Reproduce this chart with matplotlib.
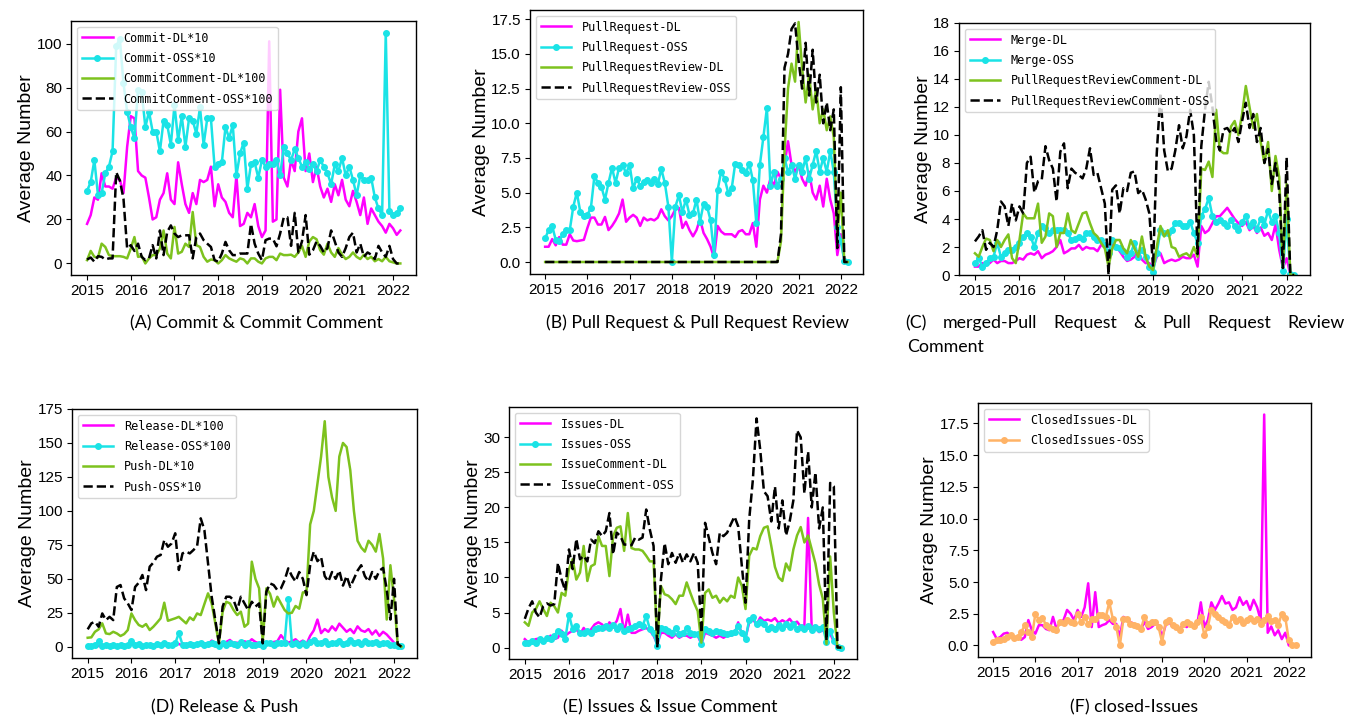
import numpy as np
import matplotlib
matplotlib.use("Agg")
import matplotlib.pyplot as plt

# ---------------- data (monthly, Jan 2015 .. Mar 2022) ----------------
years = [2015, 2016, 2017, 2018, 2019, 2020, 2021, 2022]

# (A) Commit & Commit Comment
commit_dl_x10 = [18, 22, 30, 29, 41, 35, 35, 34, 39, 38, 32, 53,
                 67, 66, 42, 40, 39, 30, 20, 21, 29, 32, 41, 29,
                 27, 46, 36, 27, 23, 32, 27, 38, 37, 38, 44, 26,
                 36, 30, 28, 23, 21, 40, 17, 18, 23, 21, 27, 17,
                 12, 15, 101, 19, 20, 79, 39, 35, 47, 42, 60, 66,
                 42, 50, 37, 44, 35, 30, 34, 28, 36, 31, 38, 29,
                 26, 33, 28, 22, 30, 18, 25, 22, 19, 17, 14, 18,
                 16, 13, 15]
commit_oss_x10 = [33, 37, 47, 31, 32, 41, 44, 51, 99, 102, 82, 69,
                  62, 57, 79, 78, 62, 69, 60, 60, 51, 65, 63, 54,
                  72, 56, 67, 53, 66, 65, 59, 71, 54, 66, 66, 44,
                  45, 46, 62, 57, 63, 40, 50, 55, 34, 45, 46, 39,
                  47, 44, 45, 45, 47, 40, 53, 50, 47, 52, 48, 44,
                  46, 43, 45, 42, 47, 44, 41, 36, 45, 42, 48, 40,
                  44, 38, 31, 40, 38, 38, 39, 30, 25, 22, 105, 24,
                  22, 23, 25]
commitcomment_dl_x100 = [1.5, 5.7, 3, 2.7, 9, 7.5, 3.8, 3.3, 3.3, 3.3, 3, 2.3,
                         6.8, 12, 3, 3.3, 0, 2.3, 3.8, 3.8, 6.8, 15, 4.5, 2.3,
                         16.6, 4.5, 5.3, 9, 7.5, 23.4, 8.3, 7.5, 3, 0.8, 1.8, 1.5,
                         0, 1.5, 3.8, 2.3, 1.5, 0.8, 2.3, 1.8, 0, 2.3, 2.3, 0.8,
                         0, 2.3, 3, 3, 1.5, 4.5, 3.8, 3.8, 4, 3, 5, 8,
                         3, 10, 12, 11, 6, 4, 9, 5, 3, 7, 4, 2,
                         3, 5, 3, 2, 4, 2, 3, 1, 2, 1, 3, 1,
                         0.5, 0, 0]
commitcomment_oss_x100 = [1.8, 2.7, 0.8, 3.3, 3, 1.8, 2.3, 2.3, 41.5, 37.7, 29.4, 6.8,
                          8.3, 5.7, 9, 3, 1.5, 2.3, 8.3, 2.3, 15, 3.8, 14.3, 17.3,
                          13.6, 12, 12.8, 12.8, 12.8, 2.3, 12, 13.6, 10.6, 9, 7.5, 1.5,
                          0.8, 4.5, 9.8, 6, 3.8, 3.8, 4.5, 4.5, 4.5, 18, 9, 4.5,
                          1.5, 10.6, 11.3, 11.3, 7.8, 13.6, 21, 21, 8, 23, 5, 10,
                          22, 4, 6, 10, 8, 5, 7, 15, 10, 5, 3, 7,
                          12, 14, 5, 9, 3, 5, 4, 2, 8, 5, 3, 8,
                          2, 0, 0]

# (B) Pull Request & Pull Request Review
pr_dl = [1.1, 1.1, 1.65, 1.2, 1.8, 1.25, 1.25, 2.0, 1.55, 1.5, 1.55, 1.6,
         2.45, 3.2, 3.2, 2.7, 2.7, 3.25, 2.3, 2.6, 3.0, 3.5, 4.5, 2.9,
         3.2, 3.4, 3.2, 2.6, 3.2, 3.0, 3.1, 3.0, 3.2, 3.8, 3.3, 3.0,
         3.3, 3.8, 3.9, 2.45, 2.9, 2.3, 1.85, 2.3, 3.1, 2.1, 1.65, 1.1,
         0.3, 2.6, 2.2, 2.0, 2.0, 2.0, 1.8, 2.2, 2.3, 2.0, 2.0, 2.8,
         1.1, 4.5, 5.5, 5.0, 6.0, 5.5, 6.5, 6.0, 7.0, 8.7, 7.0, 6.5,
         7.0, 6.0, 5.5, 6.5, 5.0, 4.5, 5.5, 4.0, 6.0, 4.5, 3.5, 0.5,
         2.0, 0.0, 0.0]
pr_oss = [1.7, 2.3, 2.6, 1.6, 1.5, 2.0, 2.3, 2.3, 4.0, 5.0, 3.6, 3.3,
          3.4, 3.9, 6.2, 5.7, 5.4, 4.5, 5.7, 6.8, 5.7, 6.8, 7.0, 6.4,
          7.0, 5.3, 6.0, 5.5, 5.8, 5.9, 5.7, 6.0, 5.6, 6.7, 5.7, 4.0,
          0.0, 4.0, 4.8, 3.6, 4.5, 3.4, 3.5, 4.5, 2.9, 4.2, 4.0, 3.0,
          0.5, 5.2, 6.5, 6.0, 5.0, 5.3, 7.1, 7.0, 6.6, 6.4, 7.1, 5.9,
          2.8, 7.0, 9.0, 11.1, 5.5, 6.5, 5.5, 6.0, 7.5, 6.5, 7.0, 6.0,
          7.0, 6.5, 7.5, 6.0, 7.0, 8.0, 6.5, 7.5, 6.5, 8.0, 6.5, 2.5,
          1.5, 0.1, 0.0]
prreview_dl = [0] * 60 + [0, 0, 0, 0, 0, 0, 0, 1.5, 8.0, 12.5, 14.3, 13.0,
                          17.3, 14.0, 11.5, 13.5, 11.0, 12.5, 10.0, 11.0, 9.5, 10.5, 9.0, 2.0,
                          5.0, 0.0, 0.0]
prreview_oss = [0] * 60 + [0, 0, 0, 0, 0, 0, 0, 2.0, 14.0, 15.0, 16.8, 17.2,
                           14.5, 12.5, 15.8, 12.0, 15.3, 11.5, 13.5, 10.0, 11.5, 9.5, 11.0, 1.0,
                           12.6, 0.0, 0.0]

# (C) merged-Pull Request & Pull Request Review Comment
merge_dl = [0.6, 0.6, 0.85, 0.75, 0.85, 1.1, 0.85, 1.0, 1.0, 0.85, 0.85, 1.0,
            1.2, 1.1, 1.45, 1.55, 1.45, 1.7, 1.2, 1.45, 1.55, 1.7, 2.0, 2.5,
            1.55, 1.7, 1.9, 1.9, 2.15, 1.8, 2.0, 1.9, 1.9, 1.7, 2.15, 2.0,
            2.0, 2.15, 2.0, 1.7, 1.3, 1.0, 1.1, 1.3, 1.7, 1.1, 0.85, 0.85,
            0.5, 1.3, 1.55, 0.85, 1.0, 1.1, 1.0, 1.1, 1.3, 1.2, 1.2, 1.45,
            0.6, 3.5, 3.0, 3.2, 3.7, 4.2, 4.2, 4.5, 4.8, 4.4, 4.0, 3.7,
            3.5, 3.8, 3.2, 3.5, 3.0, 3.4, 2.8, 3.0, 2.5, 3.6, 1.8, 0.5,
            1.2, 0.0, 0.0]
merge_oss = [0.85, 1.2, 0.6, 0.85, 1.2, 1.3, 2.3, 1.3, 1.55, 1.8, 1.8, 2.0,
             2.3, 2.7, 3.0, 2.75, 2.0, 3.0, 3.5, 3.35, 3.0, 3.2, 3.2, 3.2,
             3.2, 3.0, 2.5, 2.6, 2.75, 2.6, 3.0, 3.0, 2.75, 2.5, 2.5, 2.15,
             1.55, 2.5, 2.0, 1.9, 1.7, 1.3, 1.55, 2.3, 1.3, 1.8, 1.3, 0.6,
             0.25, 1.55, 3.2, 3.0, 3.0, 3.2, 3.7, 3.7, 3.5, 3.5, 3.8, 3.0,
             2.3, 4.2, 4.7, 5.5, 4.2, 3.8, 3.9, 3.7, 3.5, 3.9, 3.5, 3.2,
             3.8, 4.2, 3.5, 3.8, 3.3, 4.0, 3.6, 4.6, 3.8, 4.2, 3.0, 0.3,
             4.0, 0.1, 0.0]
prrc_dl = [1.55, 1.3, 2.0, 2.6, 2.5, 1.7, 2.5, 2.0, 2.5, 2.9, 1.2, 0.85,
           2.5, 4.4, 4.05, 4.05, 4.05, 5.1, 2.3, 2.75, 4.4, 4.2, 2.0, 3.0,
           3.0, 4.4, 3.2, 3.0, 3.7, 4.4, 4.5, 3.7, 3.0, 2.75, 2.3, 1.9,
           0.6, 1.9, 2.5, 2.5, 1.9, 1.55, 2.5, 1.9, 1.3, 2.75, 1.3, 0.6,
           0.35, 2.0, 3.5, 2.75, 3.2, 2.0, 1.9, 1.3, 1.45, 1.55, 1.3, 2.0,
           1.3, 7.6, 7.5, 8.1, 7.0, 11.8, 8.9, 8.7, 8.7, 10.6, 11.0, 10.0,
           11.5, 13.5, 12.0, 10.5, 11.5, 9.5, 8.0, 9.5, 6.0, 8.5, 7.0, 0.5,
           6.5, 0.0, 0.0]
prrc_oss = [2.4, 2.75, 3.2, 1.8, 2.3, 2.0, 3.2, 5.25, 4.9, 3.5, 5.1, 3.9,
            4.9, 4.4, 8.0, 8.45, 5.9, 6.7, 6.8, 9.2, 8.2, 7.6, 5.25, 8.8,
            9.4, 6.2, 7.6, 7.3, 7.15, 6.9, 7.6, 9.05, 7.15, 7.3, 6.2, 5.1,
            0.0, 6.1, 6.4, 4.4, 6.2, 6.0, 7.3, 7.4, 5.85, 6.1, 5.4, 4.4,
            0.6, 8.7, 13.0, 8.9, 7.4, 7.6, 8.9, 10.7, 9.05, 9.9, 11.8, 10.0,
            1.5, 9.2, 11.8, 13.8, 12.0, 9.6, 8.9, 10.4, 10.5, 10.1, 10.5, 9.5,
            11.0, 12.3, 10.5, 11.5, 9.5, 10.5, 8.0, 9.0, 6.5, 8.0, 6.0, 0.5,
            8.4, 0.0, 0.0]

# (D) Release & Push
release_dl_x100 = [0.3, 0.5, 1.0, 0.5, 0.8, 1.0, 0.5, 1.2, 0.8, 0.5, 1.0, 1.5,
                   2.0, 1.2, 0.8, 1.0, 0.5, 1.5, 1.0, 0.8, 1.2, 1.5, 1.0, 0.5,
                   1.5, 2.0, 1.0, 1.5, 1.2, 1.0, 2.0, 1.5, 2.5, 2.0, 4.5, 3.0,
                   1.0, 2.5, 3.5, 5.0, 2.5, 3.0, 2.0, 4.0, 3.0, 5.5, 3.5, 2.5,
                   1.0, 3.0, 2.0, 3.5, 4.0, 8.5, 5.0, 3.0, 4.0, 5.5, 3.0, 4.5,
                   2.0, 8.0, 12.0, 20.0, 10.0, 13.0, 11.0, 15.0, 12.0, 17.0, 14.0, 11.0,
                   13.0, 10.0, 15.0, 12.0, 11.0, 13.0, 9.0, 12.0, 8.0, 11.0, 9.0, 6.0,
                   3.0, 0.5, 0.5]
release_oss_x100 = [0.5, 0.8, 1.0, 4.0, 0.6, 1.2, 0.5, 1.5, 0.8, 1.2, 0.6, 1.5,
                    4.0, 1.0, 2.0, 0.8, 1.0, 1.5, 0.6, 2.0, 1.2, 3.0, 1.0, 1.5,
                    2.5, 10.0, 1.5, 1.0, 2.0, 1.2, 1.8, 2.5, 1.0, 2.0, 3.0, 2.0,
                    0.5, 2.5, 1.5, 3.0, 2.0, 1.0, 3.5, 1.5, 2.5, 1.0, 1.5, 2.0,
                    0.5, 3.0, 2.5, 1.5, 2.5, 3.0, 3.0, 35.0, 2.0, 3.0, 1.5, 2.5,
                    1.0, 3.5, 5.0, 3.0, 2.5, 4.0, 2.0, 3.0, 2.5, 4.5, 2.0, 3.0,
                    5.0, 2.5, 3.5, 2.0, 4.0, 3.0, 2.5, 3.5, 2.0, 2.5, 3.0, 1.5,
                    1.0, 0.5, 0.5]
push_dl_x10 = [6.6, 6.9, 11, 12.8, 17.2, 9.8, 9.3, 11, 9.8, 7.9, 9.3, 12.3,
               24.5, 19.6, 16, 14.7, 16.7, 12.3, 14.7, 17.7, 20.9, 32.4, 19.1, 20,
               20.9, 22, 19.6, 17.2, 21.6, 19.6, 24.5, 23.3, 31.4, 39.3, 31.9, 17.2,
               2.5, 25.8, 33.1, 31.9, 27, 23.3, 25.8, 14.7, 17, 62.6, 50, 43,
               4, 43, 39, 29.5, 36.8, 31.9, 27, 24.5, 25, 30, 28, 40,
               40, 90, 100, 120, 140, 166, 125, 110, 100, 140, 150, 147,
               130, 100, 78, 73, 70, 78, 75, 70, 83, 65, 20, 60,
               35, 2, 0]
push_oss_x10 = [12.8, 17.2, 18.4, 14.7, 24.5, 19.6, 22, 19.6, 44, 45.4, 35.6, 31.9,
                27, 44, 47.1, 52.8, 41.7, 58.9, 61.9, 66.3, 67.5, 78.5, 73.6, 76,
                83.5, 56.5, 68.7, 70, 68.7, 71.2, 74, 94.5, 85.9, 61.4, 36.8, 19.6,
                2.5, 29.5, 36.8, 36.8, 34.4, 27, 36.8, 31.9, 27, 33.1, 29.5, 31.9,
                2.5, 40.5, 46.6, 45.4, 41.7, 43, 49, 57.7, 52, 48, 55, 50,
                38, 60, 70, 63, 66, 52, 48, 55, 50, 56, 45, 52,
                44, 50, 56, 60, 52, 48, 55, 50, 56, 58, 42, 20,
                50, 2, 0]

# (E) Issues & Issue Comment
issues_dl = [1.2, 0.7, 1.0, 1.2, 1.3, 0.7, 1.2, 1.7, 1.2, 1.4, 2.4, 1.7,
             2.1, 2.4, 2.6, 1.9, 2.8, 2.1, 2.6, 3.3, 3.6, 3.3, 2.6, 3.6,
             3.1, 3.8, 5.5, 2.1, 4.7, 2.1, 2.1, 2.4, 2.6, 2.8, 2.4, 1.7,
             0.5, 2.1, 2.1, 1.7, 1.4, 1.9, 1.4, 1.7, 1.7, 1.4, 1.7, 1.7,
             0.5, 2.1, 1.9, 1.7, 1.4, 1.7, 1.4, 1.7, 1.7, 1.9, 3.6, 1.9,
             1.4, 3.6, 4.0, 3.3, 4.3, 3.8, 4.0, 3.8, 4.2, 3.5, 3.9, 3.6,
             4.1, 3.4, 3.7, 3.0, 3.2, 18.5, 2.5, 2.8, 2.2, 2.5, 1.8, 2.0,
             0.8, 0.0, 0.0]
issues_oss = [0.7, 0.7, 1.0, 0.7, 1.2, 1.0, 1.4, 1.2, 1.7, 2.4, 1.9, 1.2,
              4.7, 2.6, 3.1, 2.1, 2.1, 2.4, 2.1, 2.6, 2.8, 2.8, 3.1, 2.8,
              3.2, 2.7, 3.1, 2.4, 2.6, 2.8, 3.1, 3.3, 3.1, 4.5, 2.6, 2.1,
              0.2, 2.8, 2.6, 2.4, 2.1, 2.8, 1.9, 2.1, 2.8, 2.1, 1.9, 1.9,
              0.5, 2.6, 2.4, 2.1, 2.4, 2.2, 2.1, 1.9, 2.1, 2.2, 3.1, 2.1,
              1.2, 4.0, 4.3, 3.3, 3.6, 3.3, 2.7, 3.0, 2.6, 3.2, 2.8, 3.4,
              2.9, 3.3, 2.6, 3.0, 2.7, 3.1, 2.5, 2.9, 2.6, 3.0, 0.8, 2.4,
              1.0, 0.1, 0.0]
issuecomment_dl = [3.6, 3.1, 5.0, 5.5, 6.6, 5.5, 4.5, 6.4, 5.9, 5.0, 7.8, 7.4,
                   11.2, 12.6, 9.7, 10.7, 14.5, 9.5, 11.6, 11.9, 15.9, 14.5, 14.5, 10.2,
                   15.9, 17.1, 17.3, 13.8, 19.2, 14.2, 14.0, 14.0, 13.8, 13.1, 12.3, 12.3,
                   0.7, 8.8, 7.6, 7.4, 6.9, 6.2, 7.4, 7.4, 9.3, 7.8, 6.4, 5.2,
                   0.7, 7.8, 8.3, 7.1, 7.4, 6.4, 7.1, 6.6, 7.4, 7.1, 10.0, 8.8,
                   5.5, 13.1, 14.2, 14.0, 15.9, 17.1, 17.3, 14.5, 11.5, 10.0, 9.5, 12.0,
                   11.0, 14.0, 16.0, 17.2, 15.0, 16.0, 14.0, 12.0, 9.0, 7.0, 0.5, 13.0,
                   5.0, 0.0, 0.0]
issuecomment_oss = [4.1, 5.6, 6.6, 5.0, 4.3, 5.9, 6.3, 6.0, 6.2, 12.1, 9.7, 8.1,
                    14.0, 11.2, 15.5, 12.6, 13.1, 12.3, 15.4, 14.9, 16.6, 15.9, 16.6, 19.2,
                    13.3, 16.4, 15.9, 14.7, 14.7, 14.6, 15.7, 15.4, 15.7, 19.7, 16.8, 14.5,
                    0.0, 9.7, 14.9, 11.9, 13.5, 12.1, 13.5, 12.1, 13.3, 12.3, 13.5, 12.1,
                    2.1, 17.8, 15.7, 13.5, 11.9, 16.4, 15.9, 16.4, 17.6, 18.7, 17.3, 11.6,
                    6.4, 18.3, 24.0, 32.7, 28.2, 22.3, 21.6, 18, 23, 17, 21, 16,
                    18, 21, 31, 30, 22, 28, 20, 25, 17, 20, 1, 23.5,
                    23, 0, 0]

# (F) closed-Issues
closed_dl = [1.06, 0.53, 0.66, 0.93, 1.0, 0.8, 0.6, 0.7, 0.45, 0.66, 2.0, 1.2,
             0.93, 1.6, 1.6, 1.3, 1.2, 2.25, 1.3, 1.85, 2.0, 2.8, 2.5, 2.0,
             2.8, 2.25, 3.0, 4.9, 1.45, 4.2, 1.45, 1.6, 1.7, 2.0, 1.7, 1.7,
             0.66, 2.25, 2.1, 1.85, 1.7, 1.6, 1.3, 1.85, 1.3, 1.45, 1.7, 1.6,
             0.66, 1.6, 1.85, 1.45, 1.45, 1.3, 1.6, 1.45, 1.7, 1.45, 1.7, 3.4,
             1.45, 2.0, 3.4, 2.8, 3.3, 3.9, 3.3, 3.4, 2.8, 3.0, 3.8, 3.2,
             3.5, 2.8, 3.6, 3.0, 2.0, 18.2, 1.0, 1.5, 0.8, 1.2, 0.5, 1.0,
             0.0, 0.0, 0.0]
closed_oss = [0.26, 0.4, 0.45, 0.53, 0.66, 0.8, 0.6, 0.7, 1.06, 1.6, 1.06, 0.66,
              2.5, 2.0, 2.2, 1.6, 1.45, 1.3, 1.2, 1.85, 1.77, 2.0, 1.85, 1.77,
              2.5, 1.85, 2.25, 1.7, 2.1, 2.1, 2.4, 2.4, 2.25, 3.4, 2.1, 1.45,
              0.0, 2.1, 2.1, 1.7, 1.6, 1.5, 1.3, 2.25, 1.7, 1.85, 1.85, 1.45,
              0.26, 1.85, 2.0, 1.6, 1.45, 1.2, 1.7, 1.85, 1.7, 1.5, 1.85, 2.25,
              0.8, 1.45, 2.8, 2.5, 2.25, 2.0, 1.85, 1.6, 2.25, 1.9, 2.1, 1.8,
              2.0, 2.2, 1.9, 2.1, 1.7, 2.0, 2.3, 1.9, 2.0, 1.6, 2.5, 2.2,
              0.4, 0.0, 0.0]

captions = ["(A) Commit & Commit Comment",
            "(B) Pull Request & Pull Request Review",
            "(C) merged-Pull Request & Pull Request Review",
            "Comment",
            "(D) Release & Push",
            "(E) Issues & Issue Comment",
            "(F) closed-Issues"]

# ---------------- styling ----------------
MAG = "#FF00FF"
CYA = "#1AE3E6"
GRN = "#7DC21E"
BLK = "black"
ORG = "#FFB366"
LW = 1.8

W, H = 1348, 717
fig = plt.figure(figsize=(W / 100, H / 100), dpi=100)

TICK_FONT = dict(family="Liberation Sans", size=11)
LABEL_FONT = dict(family="Liberation Sans", size=14)
LEG_FONT = dict(family="DejaVu Sans Mono", size=8.5)
CAP_FONT = dict(family="Lato", size=12.8)


def add_ax(l, t, r, b):
    return fig.add_axes([l / W, 1 - b / H, (r - l) / W, (b - t) / H])


def series_x(vals):
    return 2015 + np.arange(len(vals)) / 12.0


def style(ax, yticks=None, ylim=None):
    ax.set_xticks(years)
    ax.set_xticklabels([str(y) for y in years], **TICK_FONT)
    if ylim is not None:
        ax.set_ylim(*ylim)
    if yticks is not None:
        ax.set_yticks(yticks)
    for lab in ax.get_yticklabels():
        lab.set_fontfamily(TICK_FONT["family"])
        lab.set_fontsize(TICK_FONT["size"])
    ax.set_ylabel("Average Number", labelpad=1, **LABEL_FONT)
    ax.tick_params(length=3.5, width=0.8, pad=3)
    for s in ax.spines.values():
        s.set_linewidth(1.0)
    leg = ax.legend(loc="upper left", prop=LEG_FONT, handlelength=2.6,
                    handletextpad=0.9, labelspacing=0.62, borderaxespad=0.5)
    return leg


def four(ax, dl, oss, dl2, oss2, names):
    ax.plot(series_x(dl), dl, color=MAG, lw=LW, label=names[0])
    ax.plot(series_x(oss), oss, color=CYA, lw=LW, marker="o", ms=4,
            label=names[1])
    ax.plot(series_x(dl2), dl2, color=GRN, lw=LW, label=names[2])
    ax.plot(series_x(oss2), oss2, color=BLK, lw=LW, ls="--", label=names[3])


# (A)
axA = add_ax(71.4, 21, 416, 275)
four(axA, commit_dl_x10, commit_oss_x10, commitcomment_dl_x100, commitcomment_oss_x100,
     ["Commit-DL*10", "Commit-OSS*10", "CommitComment-DL*100", "CommitComment-OSS*100"])
style(axA, yticks=[0, 20, 40, 60, 80, 100])

# (B)
axB = add_ax(530, 10, 863, 274)
four(axB, pr_dl, pr_oss, prreview_dl, prreview_oss,
     ["PullRequest-DL", "PullRequest-OSS", "PullRequestReview-DL", "PullRequestReview-OSS"])
style(axB, yticks=np.arange(0, 17.6, 2.5))

# (C)
axC = add_ax(959, 23, 1310, 275)
four(axC, merge_dl, merge_oss, prrc_dl, prrc_oss,
     ["Merge-DL", "Merge-OSS", "PullRequestReviewComment-DL", "PullRequestReviewComment-OSS"])
style(axC, yticks=np.arange(0, 19, 2), ylim=(0, 18))

# (D)
axD = add_ax(72, 409, 417, 658)
four(axD, release_dl_x100, release_oss_x100, push_dl_x10, push_oss_x10,
     ["Release-DL*100", "Release-OSS*100", "Push-DL*10", "Push-OSS*10"])
style(axD, yticks=np.arange(0, 176, 25))

# (E)
axE = add_ax(509, 407, 857, 659)
four(axE, issues_dl, issues_oss, issuecomment_dl, issuecomment_oss,
     ["Issues-DL", "Issues-OSS", "IssueComment-DL", "IssueComment-OSS"])
style(axE, yticks=[0, 5, 10, 15, 20, 25, 30])

# (F)
axF = add_ax(978, 403, 1311, 657)
axF.plot(series_x(closed_dl), closed_dl, color=MAG, lw=LW, label="ClosedIssues-DL")
axF.plot(series_x(closed_oss), closed_oss, color=ORG, lw=LW, marker="o", ms=4,
         label="ClosedIssues-OSS")
style(axF, yticks=np.arange(0, 17.6, 2.5))

# captions
fig.text(257 / W, 1 - 323 / H, captions[0], ha="center", va="center", **CAP_FONT)
fig.text(698 / W, 1 - 323 / H, captions[1], ha="center", va="center", **CAP_FONT)

# justified first line of caption (C), as in the typeset original
renderer = fig.canvas.get_renderer()
words = captions[2].split(" ")
x0, x1 = 905.0, 1345.0
objs = [fig.text(0, 1 - 323 / H, w, ha="left", va="center", **CAP_FONT) for w in words]
widths = [o.get_window_extent(renderer).width for o in objs]
gap = (x1 - x0 - sum(widths)) / (len(words) - 1)
xc = x0
for o, wd in zip(objs, widths):
    o.set_x(xc / W)
    xc += wd + gap
fig.text(907 / W, 1 - 347 / H, captions[3], ha="left", va="center", **CAP_FONT)

fig.text(225 / W, 1 - 707 / H, captions[4], ha="center", va="center", **CAP_FONT)
fig.text(670 / W, 1 - 707 / H, captions[5], ha="center", va="center", **CAP_FONT)
fig.text(1134 / W, 1 - 707 / H, captions[6], ha="center", va="center", **CAP_FONT)

fig.savefig("out.png", dpi=100)
